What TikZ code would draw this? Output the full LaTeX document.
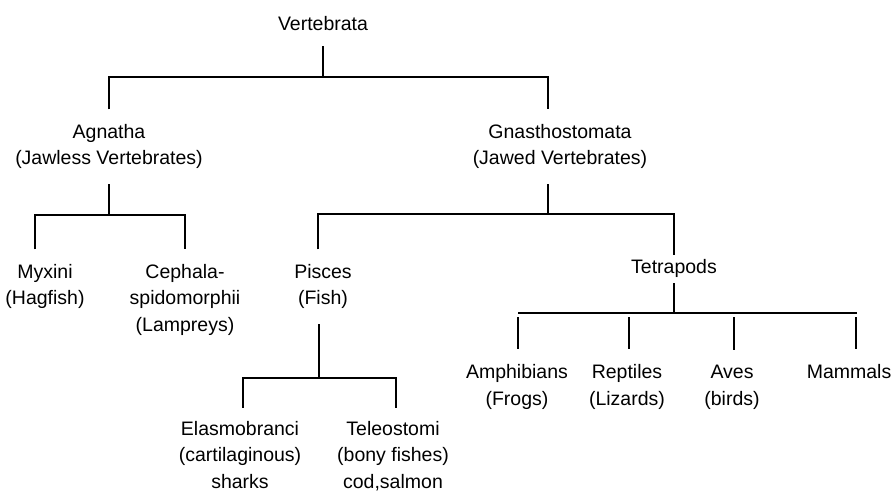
\documentclass[tikz,border=0pt]{standalone}
\usepackage{fontspec}
\setmainfont{Liberation Sans}
\tikzset{
    taxon/.style={align=center,inner sep=0pt,outer sep=15pt,anchor=base},
    bar/.style={line width=2pt},
}
\begin{document}
\begin{tikzpicture}[x=1pt,y=-1pt,every node/.style={font=\fontsize{19.5}{26.5}\selectfont}]
    \useasboundingbox (0,0) rectangle (894,494);
    % taxa (base = last line)
    \node[taxon] (vert) at (323,31) {Vertebrata};
    \node[taxon] (agn) at (109,165) {Agnatha\\(Jawless Vertebrates)};
    \node[taxon] (gna) at (560,165) {Gnasthostomata\\(Jawed Vertebrates)};
    \node[taxon] (myx) at (45,305) {Myxini\\(Hagfish)};
    \node[taxon] (ceph) at (185,331) {Cephala-\\spidomorphii\\(Lampreys)};
    \node[taxon] (pis) at (323,305) {Pisces\\(Fish)};
    \node[taxon,outer sep=5pt] (tet) at (674,274) {Tetrapods};
    \node[taxon,outer sep=13pt] (ela) at (240,488) {Elasmobranci\\(cartilaginous)\\sharks};
    \node[taxon,outer sep=13pt] (tel) at (393,488) {Teleostomi\\(bony fishes)\\cod,salmon};
    \node[taxon] (amph) at (517,405) {Amphibians\\(Frogs)};
    \node[taxon] (rep) at (627,405) {Reptiles\\(Lizards)};
    \node[taxon] (ave) at (732,405) {Aves\\(birds)};
    \node[taxon] (mam) at (849,378) {Mammals};
    % branch points
    \coordinate (b0) at (325,77);
    \coordinate (b1) at (110,215);
    \coordinate (b2) at (548,214);
    \coordinate (b3) at (319,378);
    \coordinate (b4) at (673,313);
    % tree
    \draw[bar] (vert.south) -- (vert.south |- b0);
    \draw[bar] (agn.north) |- (b0) -| ([xshift=-12pt]gna.north);
    \draw[bar] (agn.south) -- (agn.south |- b1);
    \draw[bar] ([xshift=-10pt]myx.north) |- (b1) -| (ceph.north);
    \draw[bar] ([xshift=-12pt]gna.south) -- ([xshift=-12pt]gna.south |- b2);
    \draw[bar] ([xshift=-5pt]pis.north) |- (b2) -| (tet.north);
    \draw[bar] ([xshift=-4pt]pis.south) -- ([xshift=-4pt]pis.south |- b3);
    \draw[bar] ([xshift=3pt]ela.north) |- (b3) -| ([xshift=3pt]tel.north);
    \draw[bar] (tet.south) -- (tet.south |- b4);
    \draw[bar] ([xshift=1pt]amph.north |- b4) -- ([xshift=8pt]mam.north |- b4);
    \foreach \t/\dx in {amph/1,rep/2,ave/2,mam/7}
        \draw[bar,shorten <=4pt] ([xshift=\dx pt]\t.north |- b4) -- ([xshift=\dx pt]\t.north);
\end{tikzpicture}
\end{document}
